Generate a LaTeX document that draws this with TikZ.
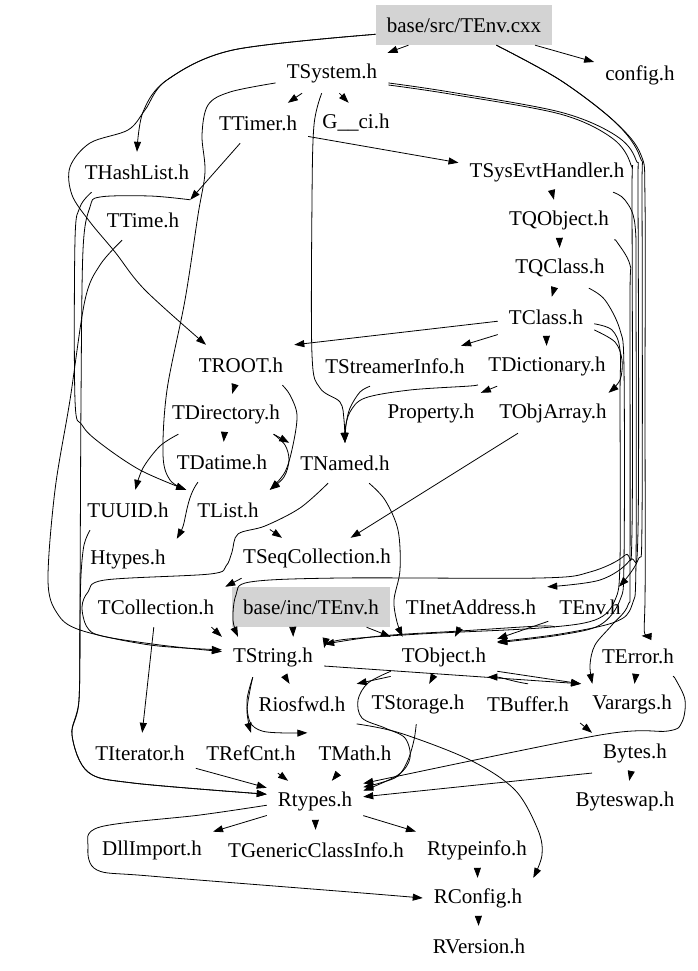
\documentclass[tikz,border=0pt]{standalone}
\usepackage{fontspec}
\setmainfont{Liberation Serif}
\usetikzlibrary{arrows.meta}
\definecolor{boxgray}{RGB}{211,211,211}
\begin{document}
\begin{tikzpicture}[x=1pt,y=-1pt,
  n/.style={inner xsep=11pt,inner ysep=0pt,minimum height=40pt,font=\fontsize{21}{24}\selectfont},
  e/.style={-{Triangle[length=10pt,width=7pt]},line width=0.8pt},
  sm/.style={smooth,tension=0.55}]
\useasboundingbox (0,0) rectangle (697,971);
% nodes
\node[n,fill=boxgray] (cxx) at (464,25) {base/src/TEnv.cxx};
\node[n] (config) at (640,75) {config.h};
\node[n] (TSystem) at (332,73) {TSystem.h};
\node[n] (TTimer) at (258,123) {TTimer.h};
\node[n] (Gci) at (356,123) {G\_\_ci.h};
\node[n] (THashList) at (137,172) {THashList.h};
\node[n] (TSysEvt) at (547,172) {TSysEvtHandler.h};
\node[n] (TTime) at (143,220) {TTime.h};
\node[n] (TQObject) at (559,220) {TQObject.h};
\node[n] (TQClass) at (560,268) {TQClass.h};
\node[n] (TClass) at (546,317) {TClass.h};
\node[n] (TROOT) at (241,365) {TROOT.h};
\node[n] (TStreamer) at (395,366) {TStreamerInfo.h};
\node[n] (TDict) at (547,366) {TDictionary.h};
\node[n] (Property) at (431,413) {Property.h};
\node[n] (TDirectory) at (226,414) {TDirectory.h};
\node[n] (TObjArray) at (553,413) {TObjArray.h};
\node[n] (TDatime) at (222,462) {TDatime.h};
\node[n] (TNamed) at (345,463) {TNamed.h};
\node[n] (TUUID) at (128,510) {TUUID.h};
\node[n] (TList) at (228,510) {TList.h};
\node[n] (Htypes) at (128,559) {Htypes.h};
\node[n] (TSeqColl) at (317,558) {TSeqCollection.h};
\node[n] (TColl) at (156,607) {TCollection.h};
\node[n,fill=boxgray] (incTEnv) at (311,607) {base/inc/TEnv.h};
\node[n] (TInet) at (471,607) {TInetAddress.h};
\node[n] (TEnvh) at (590,607) {TEnv.h};
\node[n] (TString) at (273,657) {TString.h};
\node[n] (TObject) at (444,657) {TObject.h};
\node[n] (TError) at (638,656) {TError.h};
\node[n] (Riosfwd) at (302,704) {Riosfwd.h};
\node[n] (TStorage) at (418,704) {TStorage.h};
\node[n] (TBuffer) at (528,704) {TBuffer.h};
\node[n] (Varargs) at (632,704) {Varargs.h};
\node[n] (TIterator) at (140,753) {TIterator.h};
\node[n] (TRefCnt) at (251,753) {TRefCnt.h};
\node[n] (TMath) at (355,753) {TMath.h};
\node[n] (Bytes) at (635,753) {Bytes.h};
\node[n] (Rtypes) at (315,801) {Rtypes.h};
\node[n] (Byteswap) at (625,801) {Byteswap.h};
\node[n] (DllImport) at (152,850) {DllImport.h};
\node[n] (TGeneric) at (316,850) {TGenericClassInfo.h};
\node[n] (Rtypeinfo) at (477,850) {Rtypeinfo.h};
\node[n] (RConfig) at (478,898) {RConfig.h};
\node[n] (RVersion) at (479,946) {RVersion.h};
% straight edges
\draw[e] (cxx) -- (TSystem);
\draw[e] (cxx) -- (config);
\draw[e] (TSystem) -- (TTimer);
\draw[e] (TSystem.-70) -- (Gci.110);
\draw[e] (TTimer) -- (TTime.north east);
\draw[e] (TTimer.-15) -- (TSysEvt.174);
\draw[e] (TSysEvt) -- (TQObject);
\draw[e] (TQObject) -- (TQClass);
\draw[e] (TQClass) -- (TClass);
\draw[e] (TClass) -- (TDict);
\draw[e] (TDict) -- (Property);
\draw[e] (TClass.200) -- (TStreamer.17);
\draw[e] (TClass.185) -- (TROOT.north east);
\draw[e] (TROOT) -- (TDirectory);
\draw[e] (TDirectory) -- (TDatime);
\draw[e] (TDirectory.-23) -- (TNamed.north west);
\draw[e] (TObjArray.-150) -- (TSeqColl.31);
\draw[e] (TList.-25) -- (TSeqColl.150);
\draw[e] (TSeqColl.195) -- (TColl.north east);
\draw[e] (TColl.-20) -- (TString.north west);
\draw[e] (TColl) -- (TIterator);
\draw[e] (TIterator) -- (Rtypes);
\draw[e] (TRefCnt) -- (Rtypes);
\draw[e] (TMath) -- (Rtypes);
\draw[e] (TString) -- (Riosfwd);
\draw[e] (incTEnv.-132) -- (TString.45);
\draw[e] (incTEnv.-20) -- (TObject.north west);
\draw[e] (TInet) -- (TObject);
\draw[e] (TEnvh) -- (TObject);
\draw[e] (TObject.-160) -- (Riosfwd.north east);
\draw[e] (TObject) -- (TStorage);
\draw[e] (TObject.-15) -- (Varargs.north west);
\draw[e] (TBuffer.north) .. controls (515,682) and (500,677) .. (TObject.-25);
\draw[e] (TBuffer.-20) -- (Bytes.north west);
\draw[e] (TError) -- (Varargs);
\draw[e] (Bytes) -- (Byteswap);
\draw[e] (Bytes.205) -- (Rtypes.5);
\draw[e] (Rtypes) -- (DllImport);
\draw[e] (Rtypes) -- (TGeneric);
\draw[e] (Rtypes) -- (Rtypeinfo);
\draw[e] (Rtypeinfo) -- (RConfig);
\draw[e] (RConfig) -- (RVersion);
\draw[e] (TString.-10) -- (Varargs.north west);
\draw[e] (TDatime.-140) .. controls (186,498) and (186,522) .. (Htypes.north east);
% routed edges
\draw[e] plot[sm] coordinates {(cxx.186) (233,50) (167,80) (143,112) (THashList.north)};
\draw[e] plot[sm] coordinates {(cxx.186) (233,50) (167,80) (145,110) (128,130) (90,143) (70,167) (72,195) (90,222) (115,252) (145,290) (TROOT.150)};
\draw[e] plot[sm] coordinates {(cxx.-32) (560,80) (615,122) (641,155) (645,200) (645,400) (645,600) (TError.80)};
\draw[e] plot[sm] coordinates {(cxx.-32) (560,80) (615,122) (640,157) (642,200) (642,520) (638,560) (TEnvh.35)};
\draw[e] plot[sm] coordinates {(TSystem.-10) (450,92) (560,112) (615,135) (636,160) (638,200) (638,530) (630,560) (600,580) (TInet.north east)};
\draw[e] plot[sm] coordinates {(TSystem.-12) (450,94) (560,114) (612,138) (631,165) (632,200) (632,530) (625,555) (590,572) (540,578) (340,578) (250,582) (236,595) (233,620) (TString.150)};
\draw[e] plot[sm] coordinates {(TSystem.-117) (314,125) (312,200) (312,355) (320,388) (340,402) (344,420) (TNamed.north)};
\draw[e] plot[sm] coordinates {(TSystem.190) (230,92) (208,105) (202,135) (205,172) (198,215) (185,300) (167,390) (163,455) (170,480) (TList.north west)};
\draw[e] plot[sm] coordinates {(THashList.-156) (80,207) (75,240) (75,400) (82,425) (100,443) (140,470) (TList.north west)};
\draw[e] plot[sm] coordinates {(TTime.north east) (150,196) (100,197) (90,207) (83,250) (81,400) (80,600) (79,700) (72,735) (88,772) (133,783) (Rtypes.172)};
\draw[e] plot[sm] coordinates {(TUUID.-152) (84,545) (81,575) (80,620) (79,700) (72,735) (88,772) (133,783) (Rtypes.172)};
\draw[e] plot[sm] coordinates {(TTime.-136) (100,265) (85,300) (70,400) (55,490) (48,580) (57,613) (80,630) (150,645) (TString.172)};
\draw[e] plot[sm] coordinates {(TNamed.-130) (300,508) (265,526) (238,534) (232,552) (226,566) (210,574) (105,580) (88,592) (82,607) (87,627) (102,636) (160,645) (TString.174)};
\draw[e] plot[sm] coordinates {(TROOT.-26) (290,395) (297,415) (293,445) (285,472) (TList.north east)};
\draw[e] plot[sm] coordinates {(TDirectory.-23) (285,445) (289,460) (284,477) (TList.north east)};
\draw[e] plot[sm] coordinates {(TDirectory.-157) (160,446) (143,468) (TUUID.70)};
\draw[e] plot[sm] coordinates {(TStreamer.-141) (360,392) (350,408) (346,425) (TNamed.north)};
\draw[e] plot[sm] coordinates {(TDict.-165) (470,386) (410,390) (365,398) (350,412) (345,430) (TNamed.north)};
\draw[e] plot[sm] coordinates {(TClass.-15) (615,342) (622,360) (620,380) (TObjArray.20)};
\draw[e] plot[sm] coordinates {(TQClass.-35) (605,300) (620,330) (624,370) (624,560) (620,600) (600,625) (560,635) (TObject.15)};
\draw[e] plot[sm] coordinates {(TClass.-8) (612,330) (620,350) (620,400) (620,560) (615,600) (595,620) (540,628) (420,634) (340,640) (TString.10)};
\draw[e] plot[sm] coordinates {(TSysEvt.-17) (625,200) (635,225) (636,300) (636,560) (632,605) (615,622) (560,634) (TObject.16)};
\draw[e] plot[sm] coordinates {(TQObject.-20) (617,242) (630,265) (630,300) (630,570) (628,605) (612,625) (595,645) (590,665) (Varargs.153)};
\draw[e] plot[sm] coordinates {(TEnvh.-150) (540,626) (460,631) (380,636) (TString.14)};
\draw[e] plot[sm] coordinates {(TString.-135) (250,690) (247,710) (249,725) (TRefCnt.north)};
\draw[e] plot[sm] coordinates {(TString.-135) (247,700) (250,722) (262,731) (285,733) (TMath.north west)};
\draw[e] plot[sm] coordinates {(TObject.-165) (368,683) (358,700) (362,718) (385,728) (405,738) (410,758) (398,775) (Rtypes.12)};
\draw[e] plot[sm] coordinates {(TStorage.-95) (414,740) (408,760) (398,776) (380,783) (Rtypes.16)};
\draw[e] plot[sm] coordinates {(Riosfwd.-20) (400,733) (470,760) (515,790) (538,830) (542,855) (RConfig.20)};
\draw[e] plot[sm] coordinates {(TError.-30) (676,680) (685,700) (682,722) (668,731) (600,735) (Rtypes.20)};
\draw[e] plot[sm] coordinates {(TNamed.-40) (385,500) (398,530) (400,570) (394,600) (397,622) (TObject.154)};
\draw[e] plot[sm] coordinates {(Rtypes.185) (200,815) (100,827) (88,847) (97,870) (150,876) (350,892) (RConfig.west)};
\end{tikzpicture}
\end{document}
